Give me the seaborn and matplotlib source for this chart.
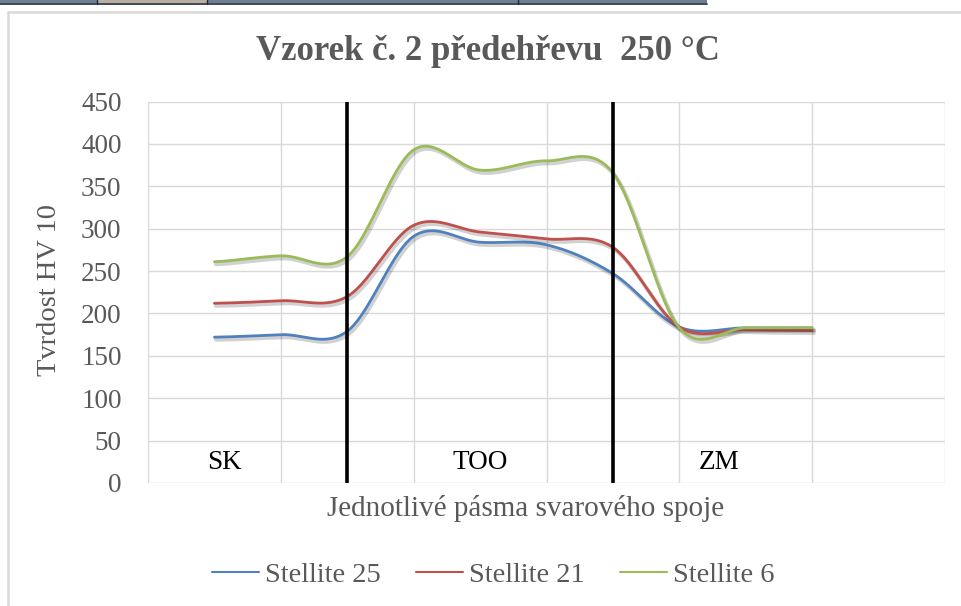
import numpy as np
import pandas as pd
import matplotlib
matplotlib.use("Agg")
import matplotlib.pyplot as plt
import matplotlib.patheffects as pe
from matplotlib.patches import Rectangle
from matplotlib.lines import Line2D
import seaborn as sns

# Measurement positions along the weld joint and hardness values (HV 10)
positions = [1, 2, 3, 4, 5, 6, 7, 8, 9, 10]
stellite_25 = [172, 175, 179, 291, 284, 281, 247, 184, 183, 183]
stellite_21 = [212, 215, 220, 304, 296, 288, 278, 184, 181, 180]
stellite_6 = [261, 268, 267, 393, 369, 380, 366, 183, 183, 183]
series_names = ["Stellite 25", "Stellite 21", "Stellite 6"]
series_colors = ["#4F81BD", "#C0504D", "#9BBB59"]

# Weld zones: base metal, heat affected zone, weld metal
zone_labels = ["SK", "TOO", "ZM"]
zone_label_x = [1.15, 5.0, 8.6]
zone_label_y = 24
zone_boundaries = [3, 7]

y_ticks = [0, 50, 100, 150, 200, 250, 300, 350, 400, 450]
x_grid = [0, 2, 4, 6, 8, 10, 12]

title = "Vzorek č. 2 předehřevu  250 °C"
x_title = "Jednotlivé pásma svarového spoje"
y_title = "Tvrdost HV 10"


def smooth_curve(xs, ys, steps=40):
    """Cardinal (Catmull-Rom) spline through the points, like smoothed chart lines."""
    xs = np.asarray(xs, float)
    ys = np.asarray(ys, float)
    yp = np.concatenate([[ys[0]], ys, [ys[-1]]])
    out_x, out_y = [], []
    t = np.linspace(0, 1, steps, endpoint=False)
    h00 = 2 * t**3 - 3 * t**2 + 1
    h10 = t**3 - 2 * t**2 + t
    h01 = -2 * t**3 + 3 * t**2
    h11 = t**3 - t**2
    for i in range(len(ys) - 1):
        p0, p1, p2, p3 = yp[i], yp[i + 1], yp[i + 2], yp[i + 3]
        m1 = (p2 - p0) / 2
        m2 = (p3 - p1) / 2
        out_y.append(h00 * p1 + h10 * m1 + h01 * p2 + h11 * m2)
        out_x.append(xs[i] + t * (xs[i + 1] - xs[i]))
    out_x.append([xs[-1]])
    out_y.append([ys[-1]])
    return np.concatenate(out_x), np.concatenate(out_y)


frames = []
for name, vals in zip(series_names, [stellite_25, stellite_21, stellite_6]):
    sx, sy = smooth_curve(positions, vals)
    frames.append(pd.DataFrame({"pos": sx, "HV": sy, "series": name}))
df = pd.concat(frames, ignore_index=True)

sns.set_theme(style="white")
plt.rcParams["font.family"] = ["Liberation Serif", "DejaVu Serif"]
text_gray = "#595959"

fig = plt.figure(figsize=(9.61, 6.06), dpi=100)
ax = fig.add_axes([148 / 961, 1 - 483 / 606, 797 / 961, 381.5 / 606])

# Page elements around the chart: table edge above and the chart frame
fig.patches.append(Rectangle((0, 1 - 3 / 606), 707 / 961, 3 / 606,
                             transform=fig.transFigure, facecolor="#6f7f92",
                             edgecolor="none", zorder=0))
fig.patches.append(Rectangle((97 / 961, 1 - 3 / 606), 110 / 961, 3 / 606,
                             transform=fig.transFigure, facecolor="#b8aea4",
                             edgecolor="none", zorder=0))
fig.lines.append(Line2D([0, 707 / 961], [1 - 3.5 / 606, 1 - 3.5 / 606],
                        transform=fig.transFigure, color="#1f2a36", lw=1.2))
for xd in [97, 207, 518]:
    fig.lines.append(Line2D([xd / 961, xd / 961], [1 - 4 / 606, 1],
                            transform=fig.transFigure, color="#1f2a36", lw=1))
fig.lines.append(Line2D([8 / 961, 1], [1 - 12 / 606, 1 - 12 / 606],
                        transform=fig.transFigure, color="#d9d9d9", lw=1.8))
fig.lines.append(Line2D([8 / 961, 8 / 961], [0, 1 - 12 / 606],
                        transform=fig.transFigure, color="#d9d9d9", lw=1.8))

sns.lineplot(data=df, x="pos", y="HV", hue="series", palette=series_colors,
             hue_order=series_names, sort=False, estimator=None, linewidth=2,
             ax=ax, legend=False,
             path_effects=[pe.SimpleLineShadow(offset=(1.2, -1.8), shadow_color="#000000",
                                               alpha=0.18, linewidth=3),
                           pe.Normal()])

ax.set_xlim(0, 12)
ax.set_ylim(0, 450)
ax.set_yticks(y_ticks)
ax.set_xticks(x_grid)
ax.set_xticklabels([])
ax.grid(True, color="#d9d9d9", linewidth=1)
ax.set_axisbelow(True)
for sp in ax.spines.values():
    sp.set_visible(False)
ax.tick_params(axis="both", length=0)
ax.tick_params(axis="y", labelsize=19.5, labelcolor=text_gray, pad=19)

for xb in zone_boundaries:
    ax.axvline(xb, color="black", linewidth=2.6, zorder=5)

for lab, xl in zip(zone_labels, zone_label_x):
    ax.text(xl, zone_label_y, lab, ha="center", va="center", fontsize=19.5, color="black")

ax.set_xlabel(x_title, fontsize=21, color=text_gray)
ax.xaxis.set_label_coords(0.474, -0.066)
ax.xaxis.label.set_va("center")
ax.set_ylabel(y_title, fontsize=20.5, color=text_gray)
ax.yaxis.set_label_coords(-0.124, 0.505)
ax.yaxis.label.set_va("center")

fig.text(0.508, 1 - 51 / 606, title, ha="center", va="center", fontsize=25,
         fontweight="bold", color=text_gray)

handles = [Line2D([0], [0], color=c, lw=1.5) for c in series_colors]
leg = fig.legend(handles, series_names, loc="center", ncol=3, frameon=False,
                 bbox_to_anchor=(0.513, 1 - 575 / 606), fontsize=20.5,
                 handlelength=1.65, handletextpad=0.2, columnspacing=1.25)
for t in leg.get_texts():
    t.set_color(text_gray)

fig.savefig("out.png", dpi=100)
